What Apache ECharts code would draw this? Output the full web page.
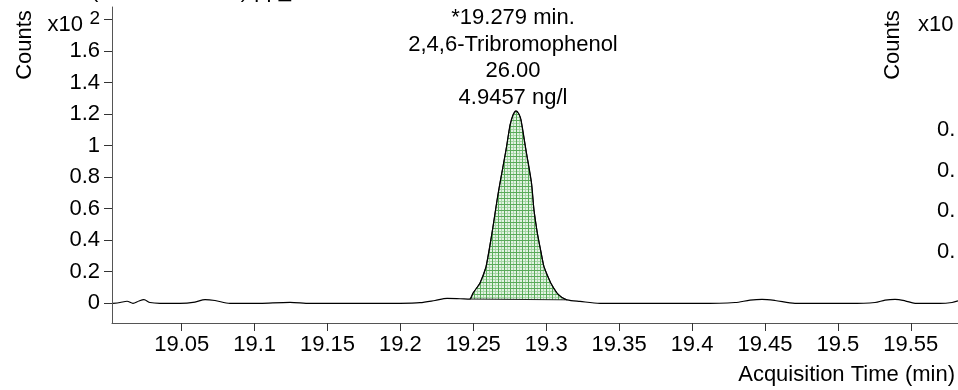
<!DOCTYPE html>
<html>
<head>
<meta charset="utf-8">
<script src="https://cdn.jsdelivr.net/npm/echarts@6/dist/echarts.min.js"></script>
<style>
html,body{margin:0;padding:0;background:#fff;}
#chart{width:958px;height:390px;}
</style>
</head>
<body>
<div id="chart"></div>
<script>
// Acquisition time (min)
const times = [19.0029, 19.0077, 19.0125, 19.0166, 19.0207, 19.0241, 19.0283, 19.0351, 19.0488, 19.0591,
  19.0660, 19.0728, 19.0831, 19.1037, 19.1243, 19.1380, 19.1654, 19.1997, 19.2134, 19.2237,
  19.2320, 19.2409, 19.2477, 19.2498, 19.2546, 19.2587, 19.2628, 19.2663, 19.2683, 19.2724,
  19.2752, 19.2772, 19.2793, 19.2813, 19.2827, 19.2861, 19.2899, 19.2916, 19.2939, 19.2964,
  19.2985, 19.3031, 19.3074, 19.3108, 19.3143, 19.3232, 19.3369, 19.3712, 19.4055, 19.4295,
  19.4398, 19.4480, 19.4569, 19.4706, 19.5084, 19.5255, 19.5324, 19.5392, 19.5461, 19.5530,
  19.5701, 19.5783, 19.5824];
// Counts (x10^2)
const counts = [-0.003, 0.003, 0.011, -0.002, 0.013, 0.021, 0.003, -0.002, -0.002, 0.006,
  0.022, 0.016, -0.003, -0.002, 0.004, -0.003, -0.003, -0.002, 0.002, 0.016,
  0.029, 0.027, 0.025, 0.063, 0.127, 0.229, 0.444, 0.654, 0.762, 0.971,
  1.130, 1.194, 1.219, 1.200, 1.162, 0.971, 0.762, 0.590, 0.444, 0.324,
  0.229, 0.127, 0.063, 0.035, 0.020, 0.010, -0.002, -0.003, -0.003, 0.003,
  0.018, 0.023, 0.016, -0.002, -0.003, 0.003, 0.018, 0.023, 0.014, -0.002,
  -0.003, 0.003, 0.013];
// Integrated peak range (start / end time)
const peakStart = 19.2477;
const peakEnd = 19.3143;

const xTickValues = [19.05, 19.1, 19.15, 19.2, 19.25, 19.3, 19.35, 19.4, 19.45, 19.5, 19.55];
const xTickLabels = ['19.05', '19.1', '19.15', '19.2', '19.25', '19.3', '19.35', '19.4', '19.45', '19.5', '19.55'];
const yTickValues = [0, 0.2, 0.4, 0.6, 0.8, 1, 1.2, 1.4, 1.6, 1.8];
const yTickLabels = ['0', '0.2', '0.4', '0.6', '0.8', '1', '1.2', '1.4', '1.6', ''];

const peakLabel = ['*19.279 min.', '2,4,6-Tribromophenol', '26.00', '4.9457 ng/l'];
const rightTickLabels = ['0.', '0.', '0.', '0.'];

const FONT = "'Liberation Sans', Arial, sans-serif";
const FS = 22;

// hatch pattern
const pc = document.createElement('canvas');
pc.width = 6; pc.height = 6;
const g = pc.getContext('2d');
g.fillStyle = '#e3f2e3'; g.fillRect(0, 0, 6, 6);
g.fillStyle = '#a6d6a6'; g.fillRect(3, 0, 1, 6); g.fillRect(0, 3, 6, 1);
g.fillStyle = '#5aab5a'; g.fillRect(0, 0, 1, 6); g.fillRect(0, 0, 6, 1);

const lineData = times.map((t, i) => [t, counts[i]]);
const peakPts = lineData.filter(p => p[0] >= peakStart && p[0] <= peakEnd);

const chart = echarts.init(document.getElementById('chart'), null, {renderer: 'canvas'});

const graphics = [];
graphics.push({type: 'text', left: 91, top: -20, style: {text: '(329.7 -> 141.0) pp_TBP.d', font: FS + 'px ' + FONT, fill: '#000'}});
graphics.push({type: 'text', x: 25, y: 45, rotation: Math.PI / 2, style: {text: 'Counts', font: FS + 'px ' + FONT, fill: '#000', align: 'center', verticalAlign: 'middle'}});
graphics.push({type: 'text', x: 83, y: 25, style: {text: 'x10', font: FS + 'px ' + FONT, fill: '#000', align: 'right', verticalAlign: 'middle'}});
graphics.push({type: 'text', x: 100, y: 19, style: {text: '2', font: '19px ' + FONT, fill: '#000', align: 'right', verticalAlign: 'middle'}});
peakLabel.forEach((s, i) => {
  graphics.push({type: 'text', x: 513, y: 18 + i * 26.7, style: {text: s, font: FS + 'px ' + FONT, fill: '#000', align: 'center', verticalAlign: 'middle'}});
});
graphics.push({type: 'text', x: 955, y: 375, style: {text: 'Acquisition Time (min)', font: FS + 'px ' + FONT, fill: '#000', align: 'right', verticalAlign: 'middle'}});
// neighbouring (cut-off) panel
graphics.push({type: 'text', x: 893, y: 45, rotation: Math.PI / 2, style: {text: 'Counts', font: FS + 'px ' + FONT, fill: '#000', align: 'center', verticalAlign: 'middle'}});
graphics.push({type: 'text', x: 918, y: 25, style: {text: 'x10', font: FS + 'px ' + FONT, fill: '#000', align: 'left', verticalAlign: 'middle'}});
rightTickLabels.forEach((s, i) => {
  graphics.push({type: 'text', x: 937, y: 130 + i * 40.7, style: {text: s, font: FS + 'px ' + FONT, fill: '#000', align: 'left', verticalAlign: 'middle'}});
});

chart.setOption({
  animation: false,
  backgroundColor: '#fff',
  grid: {left: 112, right: 0, top: 7, bottom: 67, containLabel: false},
  xAxis: {
    type: 'value', min: 19.0022, max: 19.5824,
    axisLine: {show: true, onZero: false, lineStyle: {color: '#555', width: 1}},
    axisTick: {show: true, length: 8, customValues: xTickValues, lineStyle: {color: '#333'}},
    axisLabel: {show: true, customValues: xTickValues, margin: 11, fontSize: FS, fontFamily: FONT, color: '#000',
      formatter: v => { const i = xTickValues.findIndex(x => Math.abs(x - v) < 1e-6); return i >= 0 ? xTickLabels[i] : ''; }},
    splitLine: {show: false}
  },
  yAxis: {
    type: 'value', min: -0.127, max: 1.879,
    axisLine: {show: true, onZero: false, lineStyle: {color: '#555', width: 1}},
    axisTick: {show: true, length: 8, customValues: yTickValues, lineStyle: {color: '#333'}},
    axisLabel: {show: true, customValues: yTickValues, margin: 12, fontSize: FS, fontFamily: FONT, color: '#000',
      formatter: v => { const i = yTickValues.findIndex(x => Math.abs(x - v) < 1e-6); return i >= 0 ? yTickLabels[i] : ''; }},
    splitLine: {show: false}
  },
  graphic: graphics,
  series: [
    {
      type: 'custom',
      z: 1,
      silent: true,
      data: [[peakStart, 0]],
      renderItem: function (params, api) {
        const pts = peakPts.map(p => api.coord(p));
        return {
          type: 'polygon',
          shape: {points: pts},
          style: {fill: {image: pc, repeat: 'repeat'}, stroke: '#222', lineWidth: 1}
        };
      }
    },
    {
      type: 'line',
      z: 3,
      data: lineData,
      smooth: 0.3,
      symbol: 'none',
      lineStyle: {color: '#000', width: 1.2}
    }
  ]
});
</script>
</body>
</html>
